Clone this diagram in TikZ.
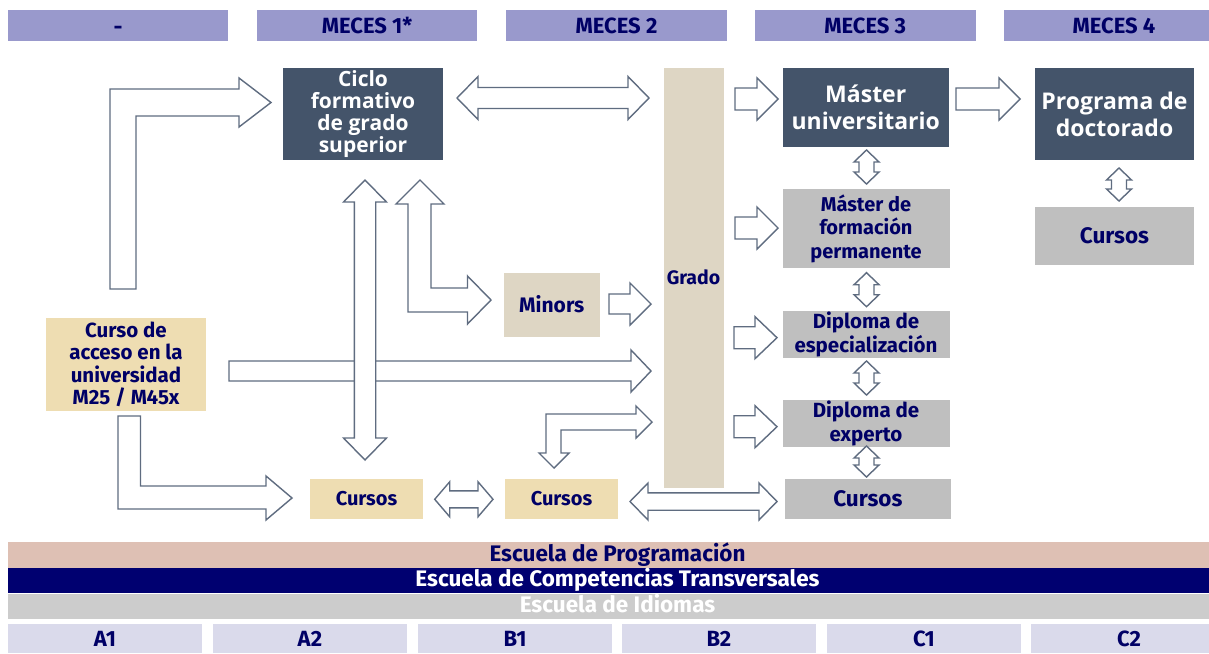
\documentclass[tikz,border=0pt]{standalone}
\usepackage{fontspec}
\setmainfont{Fira Sans}
\newfontfamily\wfont{Open Sans}
\definecolor{hdr}{RGB}{153,153,204}
\definecolor{navy}{RGB}{0,0,102}
\definecolor{slate}{RGB}{68,84,106}
\definecolor{tanb}{RGB}{222,214,196}
\definecolor{wheat}{RGB}{238,221,178}
\definecolor{greyb}{RGB}{191,191,191}
\definecolor{arr}{RGB}{95,108,128}
\definecolor{prog}{RGB}{222,192,180}
\definecolor{comp}{RGB}{0,0,112}
\definecolor{idio}{RGB}{204,204,204}
\definecolor{lvl}{RGB}{218,218,235}
\newcommand{\blkR}[6]{\draw[blk] (#1,#3-#4) -- (#2-#6,#3-#4) -- (#2-#6,#3-#5) -- (#2,#3) -- (#2-#6,#3+#5) -- (#2-#6,#3+#4) -- (#1,#3+#4) -- cycle;}
\newcommand{\blkH}[6]{\draw[blk] (#1,#3) -- (#1+#6,#3-#5) -- (#1+#6,#3-#4) -- (#2-#6,#3-#4) -- (#2-#6,#3-#5) -- (#2,#3) -- (#2-#6,#3+#5) -- (#2-#6,#3+#4) -- (#1+#6,#3+#4) -- (#1+#6,#3+#5) -- cycle;}
\newcommand{\blkV}[6]{\draw[blk] (#1,#2) -- (#1+#5,#2+#6) -- (#1+#4,#2+#6) -- (#1+#4,#3-#6) -- (#1+#5,#3-#6) -- (#1,#3) -- (#1-#5,#3-#6) -- (#1-#4,#3-#6) -- (#1-#4,#2+#6) -- (#1-#5,#2+#6) -- cycle;}
\tikzset{
  base/.style={inner sep=0pt, outer sep=0pt, draw=none},
  hdrbox/.style={base, fill=hdr, text=navy, minimum height=31.5, text height=16, text depth=0pt, font=\fontsize{22}{24}\selectfont\bfseries},
  darkbox/.style={base, align=center, fill=slate, text=white},
  greybox/.style={base, align=center, fill=greyb, text=navy},
  tanbox/.style={base, align=center, fill=tanb, text=navy},
  wheatbox/.style={base, align=center, fill=wheat, text=navy},
  bar/.style={base, minimum width=1201, text=navy, text height=16, text depth=3, font=\fontsize{22.5}{24}\selectfont\bfseries},
  lvlbox/.style={base, fill=lvl, text=navy, minimum height=29, text height=16, text depth=0pt, font=\fontsize{22}{24}\selectfont\bfseries},
  blk/.style={fill=white, draw=arr, line width=1.4pt, line join=miter},
}
\begin{document}
\begin{tikzpicture}[x=1pt,y=-1pt]
\useasboundingbox[fill=white] (0,0) rectangle (1209,653);
% headers
\node[hdrbox, minimum width=220, text height=19] (h0) at (118,25.3) {-};
\node[hdrbox, minimum width=220] (h1) at (367,25.3) {MECES 1*};
\node[hdrbox, minimum width=221] (h2) at (616.5,25.3) {MECES 2};
\node[hdrbox, minimum width=220.5] (h3) at (865.25,25.3) {MECES 3};
\node[hdrbox, minimum width=205] (h4) at (1106.5,25.3) {\hspace*{15pt}MECES 4};
% main boxes
\node[darkbox, minimum width=160, minimum height=92.5, font=\wfont\fontsize{21}{22}\selectfont\bfseries] (ciclo) at (363,113.75) {Ciclo\\formativo\\de grado\\superior};
\node[tanbox, minimum width=60, minimum height=420.5, font=\fontsize{19.5}{22}\selectfont\bfseries] (grado) at (693.5,277.75) {Grado};
\node[darkbox, minimum width=166.5, minimum height=79.5, font=\wfont\fontsize{23}{27}\selectfont\bfseries] (mu) at (865.75,107.25) {Máster\\universitario};
\node[darkbox, minimum width=159, minimum height=92.8, font=\wfont\fontsize{23}{27}\selectfont\bfseries] (doc) at (1114.5,113.9) {Programa de\\doctorado};
\node[greybox, minimum width=167, minimum height=79.8, font=\fontsize{20}{23.5}\selectfont\bfseries] (mfp) at (866,228.4) {Máster de\\formación\\permanente};
\node[greybox, minimum width=167, minimum height=47, font=\fontsize{20.5}{24}\selectfont\bfseries] (de) at (866,334.2) {Diploma de\\especialización};
\node[greybox, minimum width=167, minimum height=46.7, font=\fontsize{20.5}{24}\selectfont\bfseries] (dexp) at (866,423.35) {Diploma de\\experto};
\node[greybox, minimum width=165.7, minimum height=40, font=\fontsize{22.5}{24}\selectfont\bfseries] (c3) at (867.85,499) {Cursos};
\node[greybox, minimum width=159, minimum height=58, font=\fontsize{22.5}{24}\selectfont\bfseries] (c4) at (1114.5,235.7) {Cursos};
\node[tanbox, minimum width=96.5, minimum height=64.2, font=\fontsize{21}{23}\selectfont\bfseries] (minors) at (551.75,304.6) {Minors};
\node[wheatbox, minimum width=160, minimum height=93, font=\fontsize{20.5}{22.5}\selectfont\bfseries] (cad) at (126,364.5) {Curso de\\acceso en la\\universidad\\M25 / M45x};
\node[wheatbox, minimum width=113, minimum height=40, font=\fontsize{20}{22}\selectfont\bfseries] (c1) at (366.5,499) {Cursos};
\node[wheatbox, minimum width=113, minimum height=40, font=\fontsize{20}{22}\selectfont\bfseries] (c2) at (561.5,499) {Cursos};
% block arrows
\draw[blk] (110,289) -- (110,89) -- (239,89) -- (239,78) -- (271,102.5) -- (239,127) -- (239,116) -- (136,116) -- (136,289) -- cycle;
\blkH{457}{649}{98}{10.5}{21.5}{21}
\blkR{735}{778}{99}{11}{21}{21}
\blkR{956}{1020}{99}{11}{21}{21}
\blkR{735}{778}{228}{11}{21}{21}
\blkR{734}{777}{337.7}{11}{21}{22}
\blkR{734}{777}{426.7}{11}{21}{22}
\blkR{609}{651}{304}{10}{21}{21}
\blkR{229}{651}{371}{10}{21}{20}
\blkV{365}{180}{460}{10.7}{21.5}{22}
\draw[blk] (408,204) -- (396,204) -- (420,180) -- (444,204) -- (431,204) -- (431,288) -- (467.5,288) -- (467.5,276) -- (491,300) -- (467.5,324) -- (467.5,312) -- (408,312) -- cycle;
\draw[blk] (118,416) -- (140.5,416) -- (140.5,486) -- (266,486) -- (266,476) -- (292,498) -- (266,520) -- (266,509) -- (118,509) -- cycle;
\draw[blk] (546,453) -- (539,453) -- (554,468) -- (569,453) -- (561,453) -- (561,430) -- (636,430) -- (636,438) -- (652,422) -- (636,406) -- (636,414) -- (546,414) -- cycle;
\blkH{434.7}{493}{499.3}{8.5}{17.5}{15}
\blkH{630}{777}{501.5}{8.7}{18.5}{18}
\blkV{866.5}{150}{184}{7.5}{12.5}{12}
\blkV{866.5}{272.7}{306.7}{7.5}{12.5}{12}
\blkV{866.5}{361}{395}{7.5}{12.5}{12}
\blkV{866.5}{446}{477}{7.5}{12.5}{12}
\blkV{1119}{168}{201}{7.5}{12.5}{12}
% bottom bars
\node[bar, fill=prog, minimum height=26] (prog) at (608.5,554.5) {\hspace*{18pt}Escuela de Programación};
\node[bar, fill=comp, text=white, minimum height=25] (comp) at (608.5,580) {\hspace*{18pt}Escuela de Competencias Transversales};
\node[bar, fill=idio, text=white, minimum height=25] (idio) at (608.5,606) {\hspace*{18pt}Escuela de Idiomas};
\node[lvlbox, minimum width=194] (a1) at (105,638.5) {A1};
\node[lvlbox, minimum width=194] (a2) at (310,638.5) {A2};
\node[lvlbox, minimum width=194] (b1) at (515,638.5) {B1};
\node[lvlbox, minimum width=194] (b2) at (719,638.5) {B2};
\node[lvlbox, minimum width=194] (cc1) at (924,638.5) {C1};
\node[lvlbox, minimum width=178] (cc2) at (1120,638.5) {\hspace*{18pt}C2};
\end{tikzpicture}
\end{document}
